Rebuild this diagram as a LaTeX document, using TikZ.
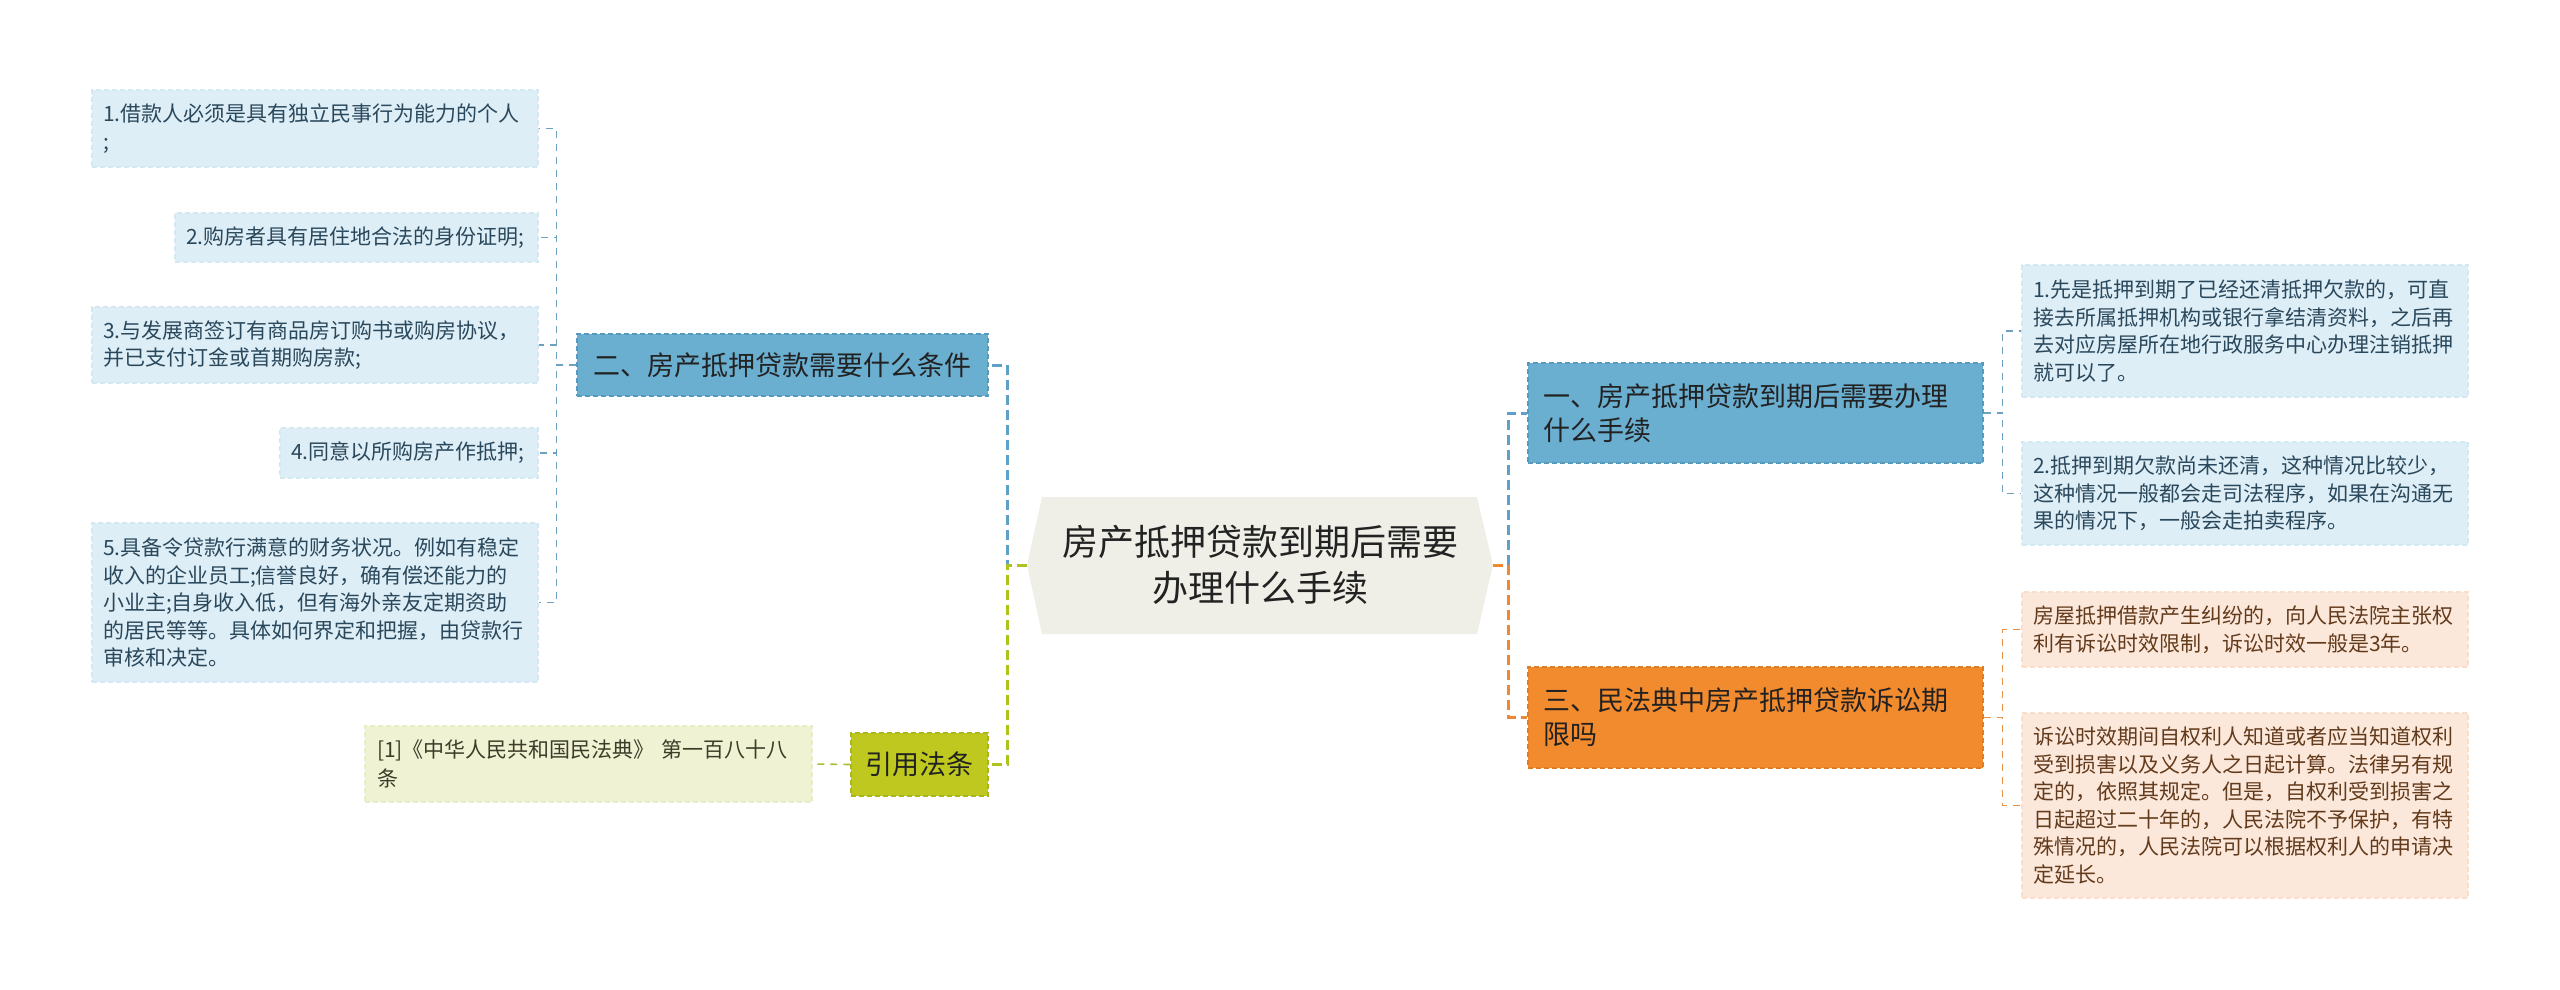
\documentclass[tikz,border=0pt]{standalone}
\usepackage{fontspec}
\setmainfont{Noto Sans CJK SC}
\definecolor{centerfill}{RGB}{239,239,232}
\definecolor{bluefill}{RGB}{106,174,208}
\definecolor{blueborder}{RGB}{86,154,192}
\definecolor{orangefill}{RGB}{242,138,46}
\definecolor{orangeborder}{RGB}{228,124,36}
\definecolor{olivefill}{RGB}{190,200,30}
\definecolor{oliveborder}{RGB}{172,182,24}
\definecolor{leafblue}{RGB}{222,238,246}
\definecolor{leafblueb}{RGB}{212,232,242}
\definecolor{leafbluet}{RGB}{42,72,92}
\definecolor{leafpeach}{RGB}{252,232,218}
\definecolor{leafpeachb}{RGB}{249,222,204}
\definecolor{leafpeacht}{RGB}{98,58,28}
\definecolor{leafolive}{RGB}{240,242,212}
\definecolor{leafoliveb}{RGB}{232,236,200}
\definecolor{leafolivet}{RGB}{60,60,40}
\definecolor{bluec}{RGB}{94,160,200}
\definecolor{greenc}{RGB}{176,194,30}
\definecolor{orangec}{RGB}{240,136,50}
\definecolor{bluel}{RGB}{110,160,192}
\definecolor{greenl}{RGB}{170,188,50}
\definecolor{orangel}{RGB}{232,146,72}
\definecolor{darktext}{RGB}{34,34,34}
\begin{document}
\begin{tikzpicture}[x=1pt,y=-1pt,
  boxbase/.style={draw, dash pattern=on 5pt off 3pt, line width=1.3pt, inner sep=0pt},
  leafB/.style={boxbase, fill=leafblue, draw=leafblueb, text=leafbluet, align=left, font=\fontsize{21}{27.5}\selectfont},
  leafP/.style={boxbase, fill=leafpeach, draw=leafpeachb, text=leafpeacht, align=left, font=\fontsize{21}{27.5}\selectfont},
  leafO/.style={boxbase, fill=leafolive, draw=leafoliveb, text=leafolivet, align=left, font=\fontsize{21}{28.5}\selectfont},
  branchB/.style={boxbase, fill=bluefill, draw=blueborder, text=darktext, font=\fontsize{27}{34}\selectfont},
  branchO/.style={boxbase, fill=orangefill, draw=orangeborder, text=darktext, font=\fontsize{27}{34}\selectfont},
  branchG/.style={boxbase, fill=olivefill, draw=oliveborder, text=darktext, font=\fontsize{27}{34}\selectfont},
  mainconn/.style={line width=3pt, dash pattern=on 10pt off 5pt},
  leafconn/.style={line width=1.6pt, dash pattern=on 7pt off 6pt}
]
\useasboundingbox (0,0) rectangle (2560,989);

% central topic
\fill[centerfill] (1027,565) -- (1042,497) -- (1477,497) -- (1493,565) -- (1477,634) -- (1042,634) -- cycle;
\node[font=\fontsize{36}{46}\selectfont, align=center, text=darktext, inner sep=0pt] (c) at (1260,565) {房产抵押贷款到期后需要\\办理什么手续};
\coordinate (cl) at (1027,565);
\coordinate (cr) at (1493,565);

% branches
\node[branchB, minimum width=411pt, minimum height=62pt, align=center] (b2) at (782.5,365) {二、房产抵押贷款需要什么条件};
\node[branchG, minimum width=137pt, minimum height=63pt, align=center] (bref) at (919.5,764.5) {引用法条};
\node[branchB, minimum width=455pt, minimum height=100pt, text width=425pt, align=left] (b1) at (1755.5,413) {一、房产抵押贷款到期后需要办理\\什么手续};
\node[branchO, minimum width=455pt, minimum height=101pt, text width=425pt, align=left] (b3) at (1755.5,717.5) {三、民法典中房产抵押贷款诉讼期\\限吗};

% left leaves
\node[leafB, minimum width=446pt, minimum height=77pt, text width=424pt] (l1) at (315,128.5) {1.借款人必须是具有独立民事行为能力的个人\\;};
\node[leafB, minimum width=363pt, minimum height=49pt, text width=341pt] (l2) at (356.5,237.5) {2.购房者具有居住地合法的身份证明;};
\node[leafB, minimum width=446pt, minimum height=76pt, text width=424pt] (l3) at (315,345) {3.与发展商签订有商品房订购书或购房协议，\\并已支付订金或首期购房款;};
\node[leafB, minimum width=258pt, minimum height=50pt, text width=236pt] (l4) at (409,453) {4.同意以所购房产作抵押;};
\node[leafB, minimum width=446pt, minimum height=159pt, text width=424pt] (l5) at (315,602.5) {5.具备令贷款行满意的财务状况。例如有稳定\\收入的企业员工;信誉良好，确有偿还能力的\\小业主;自身收入低，但有海外亲友定期资助\\的居民等等。具体如何界定和把握，由贷款行\\审核和决定。};
\node[leafO, minimum width=447pt, minimum height=76pt, text width=423pt] (lref) at (588.5,764) {[1]《中华人民共和国民法典》 第一百八十八\\条};

% right leaves
\node[leafB, minimum width=446pt, minimum height=132pt, text width=424pt] (r1) at (2245,331) {1.先是抵押到期了已经还清抵押欠款的，可直\\接去所属抵押机构或银行拿结清资料，之后再\\去对应房屋所在地行政服务中心办理注销抵押\\就可以了。};
\node[leafB, minimum width=446pt, minimum height=103pt, text width=424pt] (r2) at (2245,493.5) {2.抵押到期欠款尚未还清，这种情况比较少，\\这种情况一般都会走司法程序，如果在沟通无\\果的情况下，一般会走拍卖程序。};
\node[leafP, minimum width=446pt, minimum height=75pt, text width=424pt] (r3) at (2245,629.5) {房屋抵押借款产生纠纷的，向人民法院主张权\\利有诉讼时效限制，诉讼时效一般是3年。};
\node[leafP, minimum width=446pt, minimum height=185pt, text width=424pt] (r4) at (2245,805.5) {诉讼时效期间自权利人知道或者应当知道权利\\受到损害以及义务人之日起计算。法律另有规\\定的，依照其规定。但是，自权利受到损害之\\日起超过二十年的，人民法院不予保护，有特\\殊情况的，人民法院可以根据权利人的申请决\\定延长。};

% main connectors
\draw[mainconn, bluec] (cl) -- ++(-20,0) |- (b2.east);
\draw[mainconn, bluec] (cr) -- ++(15,0) |- (b1.west);
\draw[mainconn, orangec] (cr) -- ++(15,0) |- (b3.west);
\draw[mainconn, greenc] (cl) -- ++(-20,0) |- (bref.east);

% leaf connectors
\foreach \n in {l1,l2,l3,l4,l5}
  \draw[leafconn, bluel] (b2.west) -- ++(-20,0) |- (\n.east);
\draw[leafconn, greenl] (bref.west) -- (lref.east);
\foreach \n in {r1,r2}
  \draw[leafconn, bluel] (b1.east) -- ++(19,0) |- (\n.west);
\foreach \n in {r3,r4}
  \draw[leafconn, orangel] (b3.east) -- ++(19,0) |- (\n.west);
\end{tikzpicture}
\end{document}
